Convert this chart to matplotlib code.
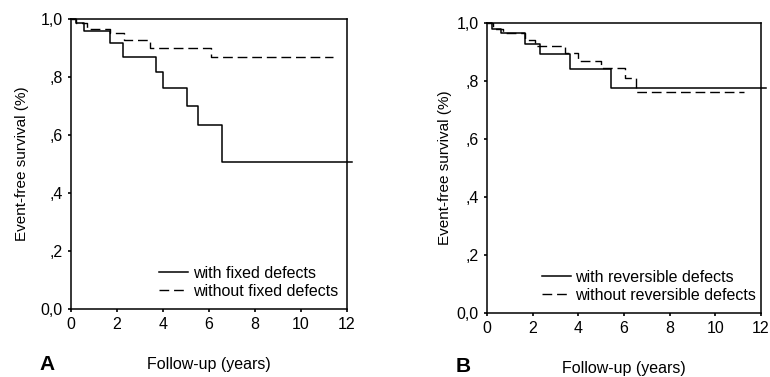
import numpy as np
import matplotlib
matplotlib.use('Agg')
import matplotlib.pyplot as plt

plt.rcParams['font.family'] = ['Liberation Sans', 'DejaVu Sans']

# 패널 A : fixed defects
a_with_t = [0, 0.2, 0.55, 1.7, 2.25, 3.7, 4.0, 5.05, 5.5, 6.55, 12.2]
a_with_s = [1.0, 0.985, 0.96, 0.916, 0.87, 0.818, 0.763, 0.70, 0.634, 0.506, 0.506]
a_without_t = [0, 0.2, 0.7, 1.7, 2.3, 3.45, 6.1, 11.4]
a_without_s = [1.0, 0.985, 0.966, 0.95, 0.928, 0.90, 0.868, 0.868]

# 패널 B : reversible defects
b_with_t = [0, 0.23, 0.6, 1.65, 2.3, 3.65, 5.45, 12.2]
b_with_s = [1.0, 0.98, 0.966, 0.928, 0.894, 0.842, 0.775, 0.775]
b_without_t = [0, 0.25, 0.7, 1.65, 2.1, 3.42, 3.97, 5.0, 6.03, 6.54, 11.25]
b_without_s = [1.0, 0.98, 0.966, 0.94, 0.922, 0.896, 0.869, 0.845, 0.811, 0.762, 0.762]

x_ticks = [0, 2, 4, 6, 8, 10, 12]
y_ticks = [0.0, 0.2, 0.4, 0.6, 0.8, 1.0]
y_ticklabels = ['0,0', ',2', ',4', ',6', ',8', '1,0']

fig = plt.figure(figsize=(7.7, 3.77), dpi=100)
ax_a = fig.add_axes([71/770, 1 - 309/377, 276/770, 290/377])
ax_b = fig.add_axes([487/770, 1 - 313/377, 274/770, 290/377])


def draw_panel(ax, t1, s1, t2, s2, lab1, lab2, letter, letter_x, letter_y,
               leg_x, ylab_pad):
    ax.step(t1, s1, where='post', color='black', lw=1.1, clip_on=False, label=lab1)
    ax.step(t2, s2, where='post', color='black', lw=1.0, dashes=(7, 3.5), label=lab2)
    ax.set_xlim(0, 12)
    ax.set_ylim(0, 1.0)
    ax.set_xticks(x_ticks)
    ax.set_yticks(y_ticks)
    ax.set_yticklabels(y_ticklabels)
    ax.tick_params(direction='out', length=2, width=1.2, labelsize=11.5, pad=4)
    for sp in ax.spines.values():
        sp.set_linewidth(1.1)
    ax.set_ylabel('Event-free survival (%)', fontsize=11, labelpad=ylab_pad)
    ax.set_xlabel('Follow-up (years)', fontsize=11.5, labelpad=18)
    ax.legend(loc='lower left', bbox_to_anchor=(leg_x, 0.035), frameon=False,
              fontsize=11.5, handlelength=1.8, handletextpad=0.3,
              labelspacing=0.2, borderpad=0, borderaxespad=0)
    fig.text(letter_x, letter_y, letter, fontsize=15, fontweight='bold',
             ha='center', va='center')


draw_panel(ax_a, a_with_t, a_with_s, a_without_t, a_without_s,
           'with fixed defects', 'without fixed defects',
           'A', 47/770, 1 - 364/377, 0.32, 8)
draw_panel(ax_b, b_with_t, b_with_s, b_without_t, b_without_s,
           'with reversible defects', 'without reversible defects',
           'B', 463/770, 1 - 367/377, 0.2, 3)

fig.savefig('out.png', dpi=100)
